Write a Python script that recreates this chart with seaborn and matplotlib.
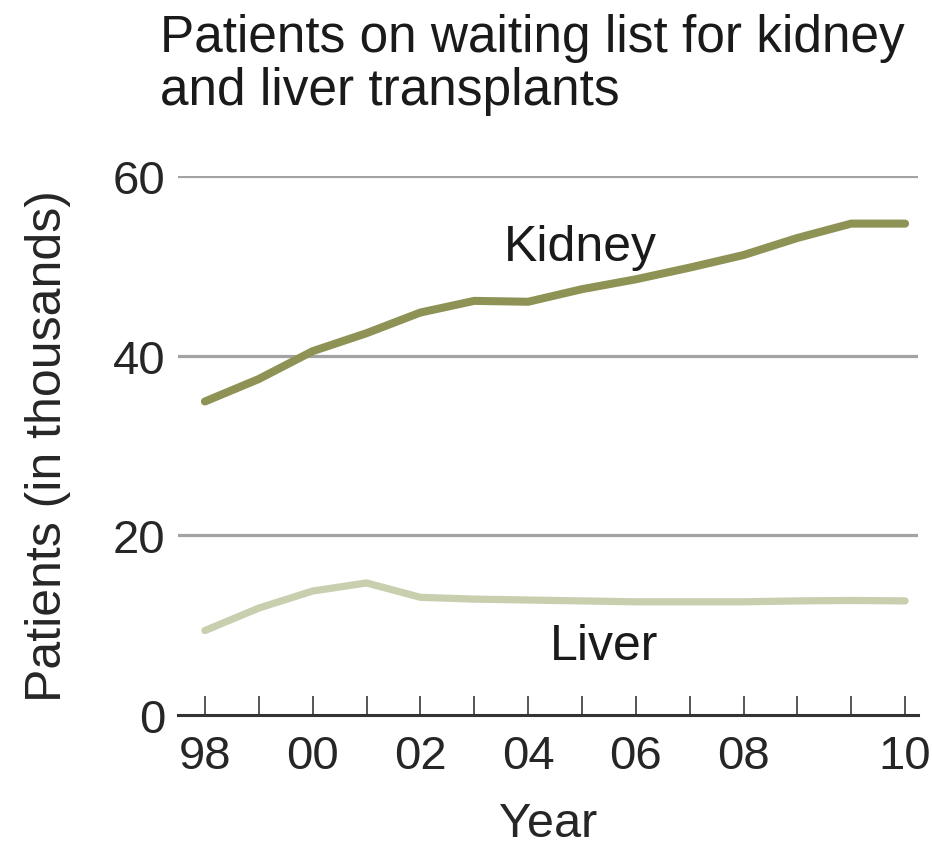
import matplotlib
matplotlib.use("Agg")
import matplotlib.pyplot as plt
import seaborn as sns
import pandas as pd

sns.set_style("white")
plt.rcParams["font.family"] = ["Liberation Sans", "DejaVu Sans"]

# one point per tick on the original axis (14 tick marks)
period = list(range(14))
kidney = [34.9, 37.4, 40.5, 42.5, 44.8, 46.1, 46.0, 47.4, 48.5, 49.8, 51.2, 53.1, 54.7, 54.7]
liver = [9.4, 11.9, 13.8, 14.7, 13.1, 12.9, 12.8, 12.7, 12.6, 12.6, 12.6, 12.7, 12.75, 12.7]
tick_pos = [0, 2, 4, 6, 8, 10, 13]
tick_labels = ["98", "00", "02", "04", "06", "08", "10"]

df = pd.DataFrame({
    "period": period * 2,
    "patients": kidney + liver,
    "organ": ["Kidney"] * len(period) + ["Liver"] * len(period),
})

fig = plt.figure(figsize=(9.32, 8.54), dpi=100)
ax = fig.add_axes([178 / 932, 138 / 854, 740 / 932, 539 / 854])

for y in [20, 40, 60]:
    ax.axhline(y, color="#a3a3a3", lw=2.3, zorder=0)

sns.lineplot(data=df[df.organ == "Kidney"], x="period", y="patients",
             color="#8e9355", lw=5.8, ax=ax, solid_capstyle="round", legend=False)
sns.lineplot(data=df[df.organ == "Liver"], x="period", y="patients",
             color="#c8cfae", lw=5.2, ax=ax, solid_capstyle="round", legend=False)

ax.text(6.97, 50.6, "Kidney", fontsize=36, ha="center", va="baseline", color="#1a1a1a")
ax.text(7.42, 6.2, "Liver", fontsize=36, ha="center", va="baseline", color="#1a1a1a")

ax.set_xlim(-0.5, 13.24)
ax.set_ylim(0, 60)
for s in ["top", "right", "left"]:
    ax.spines[s].set_visible(False)
ax.spines["bottom"].set_color("#333333")
ax.spines["bottom"].set_linewidth(2.2)

ax.set_xticks(tick_pos)
ax.set_xticks(period, minor=True)
ax.set_xticklabels(tick_labels, fontsize=34)
ax.tick_params(axis="x", which="both", bottom=True, direction="in", length=14, width=1.4,
               color="#555555", pad=14)
ax.set_yticks([0, 20, 40, 60])
ax.set_yticklabels(["0", "20", "40", "60"], fontsize=34)
ax.tick_params(axis="y", length=0, pad=9)

ax.set_xlabel("Year", fontsize=35, labelpad=16)
ax.set_ylabel("Patients (in thousands)", fontsize=36, labelpad=30)

fig.text(160 / 932, 1 - 14 / 854, "Patients on waiting list for kidney\nand liver transplants",
         fontsize=37, ha="left", va="top", linespacing=1.1, color="#1a1a1a")

plt.savefig("out.png", dpi=100)
plt.close()
